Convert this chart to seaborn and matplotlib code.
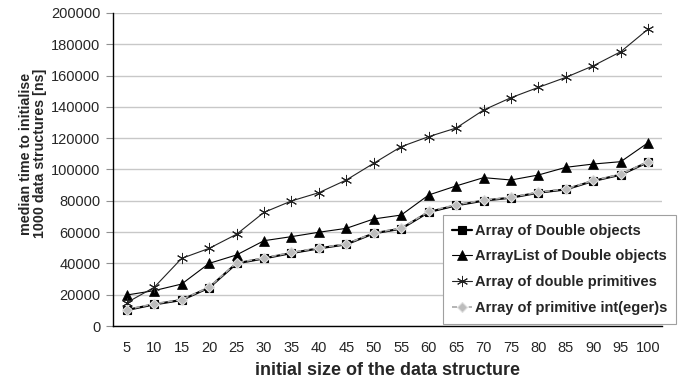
import matplotlib
matplotlib.use("Agg")
import matplotlib.pyplot as plt
import seaborn as sns
import pandas as pd
import numpy as np

sizes = [5, 10, 15, 20, 25, 30, 35, 40, 45, 50, 55, 60, 65, 70, 75, 80, 85, 90, 95, 100]
array_double_objects = [10200, 13800, 16600, 24500, 40000, 43200, 46600, 49600, 52200, 59200,
                        62200, 72800, 77100, 80100, 82000, 85200, 87300, 92700, 96700, 104800]
arraylist_double_objects = [19800, 22600, 26800, 40000, 45400, 54500, 57100, 59900, 62400, 68400,
                            70900, 83700, 89500, 94800, 93300, 96500, 101400, 103500, 105000, 117200]
array_double_primitives = [14900, 24700, 43200, 49600, 58600, 72600, 79900, 85200, 93300, 104000,
                           114600, 121000, 126500, 138000, 145900, 152500, 158900, 166300, 175300, 189800]
array_int_primitives = [10500, 14200, 16900, 24800, 40400, 43500, 47000, 49900, 52500, 59500,
                        62500, 73200, 77500, 80400, 82300, 85500, 87600, 93000, 97000, 105100]
series_names = ["Array of Double objects", "ArrayList of Double objects",
                "Array of double primitives", "Array of primitive int(eger)s"]

sns.set_theme(style="white")
plt.rcParams['font.family'] = ['Liberation Sans', 'DejaVu Sans']

fig = plt.figure(figsize=(6.88, 3.79), dpi=100)
ax = fig.add_axes([113/688, 1 - 326/379, (662-113)/688, (326-13)/379])

pos = np.arange(len(sizes))
styles = [
    dict(color="black", linewidth=1.6, linestyle="-", marker="s", markersize=6,
         markerfacecolor="black", markeredgecolor="black", markeredgewidth=0.8),
    dict(color="black", linewidth=0.8, linestyle="-", marker="^", markersize=7,
         markerfacecolor="black", markeredgecolor="black", markeredgewidth=0.5),
    dict(color="#222222", linewidth=0.8, linestyle="-", marker=(6, 2, 0), markersize=8,
         markerfacecolor="none", markeredgecolor="#222222", markeredgewidth=0.7),
    dict(color="#a8a8a8", linewidth=1.2, linestyle=(0, (3, 2)), marker="D", markersize=5,
         markerfacecolor="#bcbcbc", markeredgecolor="#e0e0e0", markeredgewidth=0.8),
]
datas = [array_double_objects, arraylist_double_objects, array_double_primitives, array_int_primitives]
for name, vals, st in zip(series_names, datas, styles):
    df = pd.DataFrame({"x": pos, "y": vals})
    n0 = len(ax.lines)
    sns.lineplot(data=df, x="x", y="y", ax=ax, label=name, color=st["color"])
    ln = ax.lines[n0]
    ln.set_linewidth(st["linewidth"])
    ln.set_linestyle(st["linestyle"])
    ln.set_marker(st["marker"])
    ln.set_markersize(st["markersize"])
    ln.set_markerfacecolor(st["markerfacecolor"])
    ln.set_markeredgecolor(st["markeredgecolor"])
    ln.set_markeredgewidth(st["markeredgewidth"])

ax.set_xlim(-0.5, len(sizes) - 0.5)
ax.set_ylim(0, 200000)
ax.set_yticks(np.arange(0, 200001, 20000))
ax.set_yticklabels([str(v) for v in range(0, 200001, 20000)], fontsize=10.5)
ax.set_xticks(pos)
ax.set_xticklabels([str(s) for s in sizes], fontsize=10.5)
ax.set_xticks(np.arange(-0.5, len(sizes)), minor=True)
ax.tick_params(axis="x", which="major", length=0, pad=11)
ax.tick_params(axis="x", which="minor", length=5, color="#909090", width=0.8)
ax.tick_params(axis="y", length=5, color="#909090", width=0.8, pad=4, left=True)
ax.yaxis.grid(True, color="#c8c8c8", linewidth=1)
ax.xaxis.grid(False)
for s in ["top", "right"]:
    ax.spines[s].set_visible(False)
ax.spines["left"].set_color("black")
ax.spines["bottom"].set_color("black")
ax.spines["left"].set_linewidth(1)
ax.spines["bottom"].set_linewidth(1)

ax.set_xlabel("initial size of the data structure", fontsize=13, fontweight="bold", labelpad=5)
ax.set_ylabel("median time to initialise\n1000 data structures [ns]", fontsize=10.3,
              fontweight="bold", linespacing=1.05)
ax.yaxis.set_label_coords(-0.12, 0.55)

leg = ax.legend(loc="upper left", bbox_to_anchor=((443-113)/549, (326-215)/313), frameon=True,
                prop={"weight": "bold", "size": 10.5}, handlelength=1.4,
                handletextpad=0.2, borderpad=0.6, labelspacing=0.8, fancybox=False,
                borderaxespad=0)
leg.get_frame().set_edgecolor("#a0a0a0")
leg.get_frame().set_linewidth(0.8)
leg.get_frame().set_alpha(1)

fig.savefig("out.png", dpi=100)
